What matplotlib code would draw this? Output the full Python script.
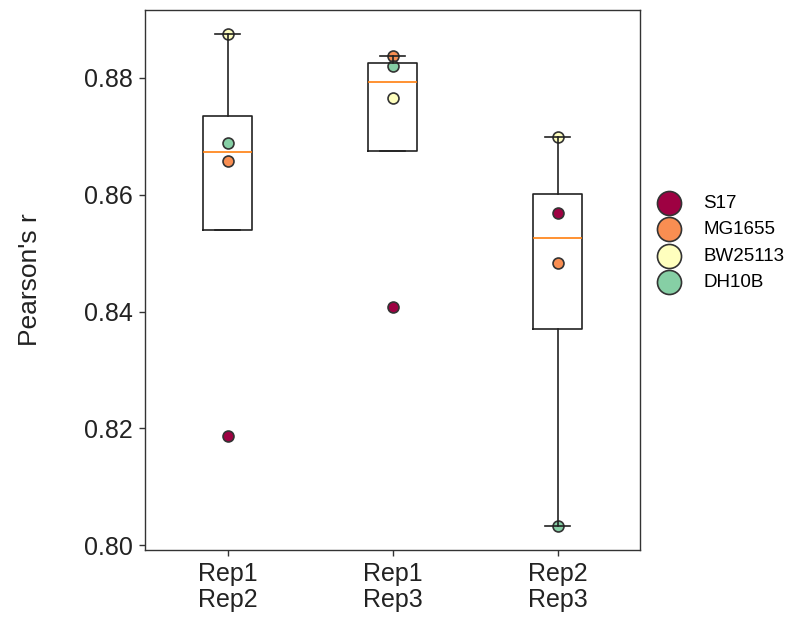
import numpy as np
import matplotlib.pyplot as plt

plt.rcParams['font.family'] = ['Liberation Sans', 'DejaVu Sans']

# comparisons on the x axis
pairs = ['Rep1\nRep2', 'Rep1\nRep3', 'Rep2\nRep3']
strains = ['S17', 'MG1655', 'BW25113', 'DH10B']

# Pearson's r per strain, one value per comparison
s17 = [0.8187, 0.8407, 0.8569]
mg1655 = [0.8658, 0.8838, 0.8483]
bw25113 = [0.8875, 0.8765, 0.8699]
dh10b = [0.8688, 0.8821, 0.8033]

yticks = [0.80, 0.82, 0.84, 0.86, 0.88]

values = [s17, mg1655, bw25113, dh10b]
colors = plt.cm.Spectral([0.0, 0.25, 0.5, 0.75])

fig = plt.figure(figsize=(7.9, 6.26), dpi=100)
ax = fig.add_axes([145/790, 76/626, 495/790, 540/626])
pos = np.arange(1, len(pairs) + 1)

for name, vals, c in zip(strains, values, colors):
    ax.scatter(pos, vals, s=62, color=c, edgecolor='#333333', linewidth=1.2,
               zorder=2, label=name)

per_pair = [list(col) for col in np.array(values).T]
dark = '#222222'
ax.boxplot(per_pair, positions=pos, widths=0.3, showfliers=False, zorder=3,
           boxprops=dict(color=dark, linewidth=1.2),
           whiskerprops=dict(color=dark, linewidth=1.2),
           capprops=dict(color=dark, linewidth=1.2),
           medianprops=dict(color='#ff7f0e', linewidth=1.2))

ax.set_xlim(0.5, 3.5)
ax.set_ylim(0.7992, 0.8916)
ax.set_xticks(pos)
ax.set_xticklabels(pairs, fontsize=18, linespacing=1.1)
ax.set_yticks(yticks)
ax.set_yticklabels(['%.2f' % t for t in yticks], fontsize=18)
ax.tick_params(length=4, width=1.0, color='#333333', labelcolor='#222222', pad=5)
for sp in ax.spines.values():
    sp.set_color('#333333')
    sp.set_linewidth(1.0)
ax.set_ylabel("Pearson's r", fontsize=19, color='#222222', labelpad=30)

ax.legend(frameon=False, loc='center left', bbox_to_anchor=(0.986, 0.569),
          fontsize=13.5, markerscale=2.2, handletextpad=0.85, labelspacing=0.5,
          scatterpoints=1)

plt.savefig('out.png', dpi=100)
